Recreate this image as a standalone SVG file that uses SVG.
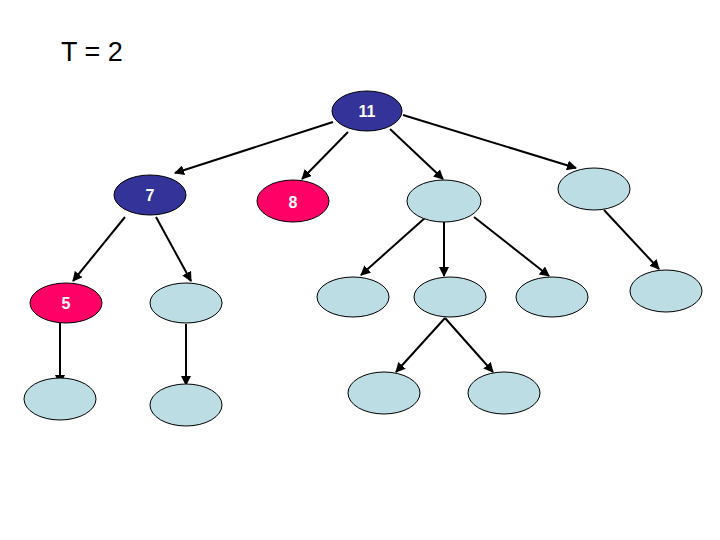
<svg xmlns="http://www.w3.org/2000/svg" width="720" height="540" viewBox="0 0 720 540">
<style>
.n{stroke:#000;stroke-width:1}
.b{fill:#333399}
.r{fill:#FF0066}
.l{fill:#BBDDE3}
.t{font-family:"Liberation Sans",Arial,sans-serif;font-weight:bold;font-size:16px;fill:#fff;text-anchor:middle}
.e line{stroke:#000;stroke-width:2;marker-end:url(#ah)}
</style>
<defs>
<marker id="ah" viewBox="0 0 10 10" refX="9" refY="5" markerWidth="5" markerHeight="5" orient="auto" markerUnits="strokeWidth">
<path d="M0,0 L10,5 L0,10 z" fill="#000"/>
</marker>
</defs>
<rect width="720" height="540" fill="#fff"/>
<text x="61" y="61" font-family="Liberation Sans,Arial,sans-serif" font-size="27" fill="#000">T = 2</text>
<g id="edges" class="e">
<line x1="333" y1="122" x2="175" y2="173"/>
<line x1="348" y1="132" x2="302" y2="179"/>
<line x1="390" y1="129" x2="443" y2="179"/>
<line x1="403" y1="115" x2="576" y2="168"/>
<line x1="125" y1="217" x2="73" y2="281"/>
<line x1="156" y1="217" x2="191" y2="281"/>
<line x1="60" y1="323" x2="60" y2="384"/>
<line x1="186" y1="324" x2="186" y2="385"/>
<line x1="426" y1="217" x2="361" y2="275"/>
<line x1="444" y1="222" x2="444" y2="276"/>
<line x1="474" y1="217" x2="549" y2="276"/>
<line x1="604" y1="210" x2="659" y2="269"/>
<line x1="445" y1="318" x2="396" y2="372"/>
<line x1="445" y1="318" x2="493" y2="372"/>
</g>
<g id="n11"><ellipse class="n b" cx="367" cy="111" rx="35" ry="20"/><text class="t" x="367" y="117">11</text></g>
<g id="n7"><ellipse class="n b" cx="150" cy="195" rx="36" ry="20"/><text class="t" x="150" y="201">7</text></g>
<g id="n8"><ellipse class="n r" cx="293" cy="201" rx="36" ry="21"/><text class="t" x="293" y="208">8</text></g>
<g id="n5"><ellipse class="n r" cx="66" cy="303" rx="36" ry="20"/><text class="t" x="66" y="309">5</text></g>
<g id="nA"><ellipse class="n l" cx="444" cy="201" rx="37" ry="21"/></g>
<g id="nB"><ellipse class="n l" cx="594" cy="189" rx="36" ry="21"/></g>
<g id="n7r"><ellipse class="n l" cx="186" cy="303" rx="36" ry="20"/></g>
<g id="nA1"><ellipse class="n l" cx="353" cy="297" rx="36" ry="20"/></g>
<g id="nA2"><ellipse class="n l" cx="450" cy="297" rx="36" ry="20"/></g>
<g id="nA3"><ellipse class="n l" cx="552" cy="297" rx="36" ry="20"/></g>
<g id="nB1"><ellipse class="n l" cx="666" cy="291" rx="36" ry="21"/></g>
<g id="n5c"><ellipse class="n l" cx="60" cy="399" rx="36" ry="21"/></g>
<g id="n7rc"><ellipse class="n l" cx="186" cy="405" rx="36" ry="21"/></g>
<g id="nA2a"><ellipse class="n l" cx="384" cy="393" rx="36" ry="21"/></g>
<g id="nA2b"><ellipse class="n l" cx="504" cy="393" rx="36" ry="21"/></g>
</svg>
